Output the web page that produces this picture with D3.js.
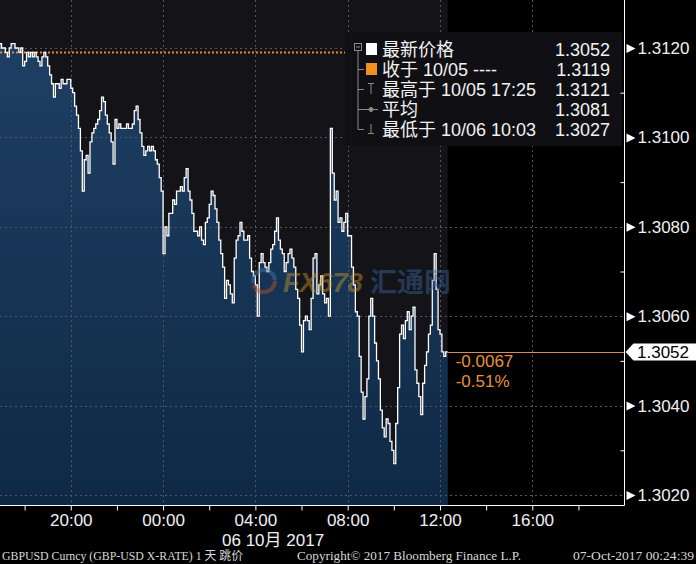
<!DOCTYPE html>
<html><head><meta charset="utf-8">
<script src="https://cdn.jsdelivr.net/npm/d3@7"></script>
<style>body{margin:0;background:#000;overflow:hidden}svg{display:block}</style>
</head><body><svg id="c" width="696" height="564"></svg>
<script>
// ---------- data ----------
const startTime = "2017-10-05T16:50:00";
const stepMinutes = 5;
const prices = [
1.3120,1.3121,1.3120,1.3120,1.3119,1.3118,1.3120,1.3121,1.3121,1.3120,
1.3120,1.3119,1.3120,1.3116,1.3117,1.3119,1.3118,1.3119,1.3118,1.3119,
1.3118,1.3117,1.3116,1.3118,1.3119,1.3118,1.3116,1.3114,1.3112,1.3109,
1.3112,1.3112,1.3111,1.3113,1.3112,1.3112,1.3113,1.3113,1.3111,1.3110,
1.3107,1.3105,1.3102,1.3097,1.3088,1.3095,1.3096,1.3092,1.3099,1.3101,
1.3102,1.3103,1.3104,1.3106,1.3109,1.3108,1.3105,1.3103,1.3101,1.3099,
1.3094,1.3104,1.3102,1.3103,1.3102,1.3102,1.3102,1.3103,1.3102,1.3102,
1.3103,1.3106,1.3107,1.3104,1.3101,1.3098,1.3096,1.3097,1.3098,1.3097,
1.3098,1.3097,1.3095,1.3094,1.3091,1.3088,1.3074,1.3080,1.3078,1.3083,
1.3083,1.3086,1.3085,1.3088,1.3088,1.3089,1.3088,1.3091,1.3093,1.3088,
1.3086,1.3083,1.3079,1.3079,1.3078,1.3080,1.3077,1.3076,1.3081,1.3082,
1.3085,1.3088,1.3087,1.3084,1.3081,1.3077,1.3074,1.3071,1.3064,1.3068,
1.3067,1.3065,1.3063,1.3073,1.3077,1.3078,1.3081,1.3079,1.3077,1.3077,
1.3078,1.3073,1.3070,1.3069,1.3067,1.3060,1.3072,1.3074,1.3072,1.3071,
1.3070,1.3072,1.3075,1.3076,1.3079,1.3082,1.3077,1.3075,1.3074,1.3070,
1.3072,1.3074,1.3075,1.3073,1.3071,1.3066,1.3064,1.3058,1.3052,1.3059,
1.3060,1.3059,1.3057,1.3064,1.3073,1.3074,1.3065,1.3067,1.3069,1.3065,
1.3063,1.3064,1.3060,1.3102,1.3092,1.3086,1.3088,1.3081,1.3082,1.3079,
1.3081,1.3083,1.3078,1.3078,1.3071,1.3067,1.3061,1.3060,1.3051,1.3043,
1.3037,1.3042,1.3046,1.3060,1.3064,1.3060,1.3054,1.3050,1.3046,1.3039,
1.3035,1.3033,1.3037,1.3036,1.3032,1.3030,1.3027,1.3036,1.3044,1.3056,
1.3058,1.3055,1.3059,1.3061,1.3057,1.3060,1.3062,1.3048,1.3045,1.3042,
1.3038,1.3045,1.3049,1.3052,1.3056,1.3058,1.3068,1.3074,1.3066,1.3057,
1.3056,1.3052,1.3051,1.3052,1.3052];
const priorClose = 1.3119;
const lastPrice = 1.3052;
const changeLabels = ["-0.0067", "-0.51%"];
const yTicks = [1.3020, 1.3040, 1.3060, 1.3080, 1.3100, 1.3120];
const yMinorTicks = [1.3030, 1.3050, 1.3070, 1.3090, 1.3110];
const xTickTimes = ["2017-10-05T20:00","2017-10-06T00:00","2017-10-06T04:00","2017-10-06T08:00","2017-10-06T12:00","2017-10-06T16:00"];
const xTickLabels = ["20:00","00:00","04:00","08:00","12:00","16:00"];
const xMinorTimes = ["2017-10-05T18:00","2017-10-05T22:00","2017-10-06T02:00","2017-10-06T06:00","2017-10-06T10:00","2017-10-06T14:00","2017-10-06T18:00"];
const dateLabel = "06 10月 2017";
const legendLabels = ["最新价格", "收于 10/05 ----", "最高于 10/05 17:25", "平均", "最低于 10/06 10:03"];
const legendValues = ["1.3052", "1.3119", "1.3121", "1.3081", "1.3027"];
const legendKinds = ["whiteSq", "orangeSq", "high", "avg", "low"];
const footerLeft = "GBPUSD Curncy (GBP-USD X-RATE) 1 天  跳价";
const footerMid = "Copyright© 2017 Bloomberg Finance L.P.";
const footerRight = "07-Oct-2017 00:24:39";

// ---------- setup ----------
const svg = d3.select("#c");
const W = 696, H = 564, plotR = 624.5, plotB = 505.5;
const t0 = new Date(startTime);
const data = prices.map((p, i) => ({t: new Date(t0.getTime() + i * stepMinutes * 60000), v: p}));
const x = d3.scaleTime().domain([new Date("2017-10-05T16:56:00"), new Date("2017-10-06T20:00:00")]).range([0, 624.6]);
const y = d3.scaleLinear().domain([1.3020, 1.3120]).range([495, 48]);
const font = "Arial, 'Liberation Sans', 'Noto Sans CJK SC', sans-serif";

svg.append("rect").attr("width", W).attr("height", H).attr("fill", "#000");
const defs = svg.append("defs");
defs.append("clipPath").attr("id", "clip").append("rect").attr("x", 0).attr("y", 0).attr("width", plotR).attr("height", plotB);
const grad = defs.append("linearGradient").attr("id", "ag").attr("x1", 0).attr("x2", 0).attr("y1", 0).attr("y2", 1);
grad.append("stop").attr("offset", "0%").attr("stop-color", "#1e3f64");
grad.append("stop").attr("offset", "100%").attr("stop-color", "#0f2945");

const plot = svg.append("g").attr("clip-path", "url(#clip)");
const lastT = data[data.length - 1].t;
plot.append("rect").attr("x", 0).attr("y", 0).attr("width", x(lastT)).attr("height", plotB).attr("fill", "#141418");

const area = d3.area().x(d => x(d.t)).y0(plotB).y1(d => y(d.v)).curve(d3.curveStepAfter);
plot.append("path").datum(data).attr("d", area).attr("fill", "url(#ag)");

// grid
const grid = plot.append("g").attr("stroke", "#545462").attr("stroke-width", 1).attr("stroke-dasharray", "2,3");
yTicks.forEach(v => grid.append("line").attr("x1", 0).attr("x2", plotR).attr("y1", Math.round(y(v)) + 0.5).attr("y2", Math.round(y(v)) + 0.5));
xTickTimes.forEach(s => { const xx = Math.round(x(new Date(s))) + 0.5; grid.append("line").attr("x1", xx).attr("x2", xx).attr("y1", 0).attr("y2", plotB); });

// prior close dotted line
plot.append("line").attr("x1", 0).attr("x2", plotR).attr("y1", y(priorClose)).attr("y2", y(priorClose))
  .attr("stroke", "#e8862a").attr("stroke-width", 2).attr("stroke-dasharray", "2,2");

// price line
const line = d3.line().x(d => x(d.t)).y(d => y(d.v)).curve(d3.curveStepAfter);
plot.append("path").datum(data).attr("d", line).attr("fill", "none").attr("stroke", "#ffffff").attr("stroke-width", 1.3);

// last price line
plot.append("line").attr("x1", x(lastT)).attr("x2", plotR).attr("y1", Math.round(y(lastPrice)) + 0.5).attr("y2", Math.round(y(lastPrice)) + 0.5)
  .attr("stroke", "#d98a5c").attr("stroke-width", 1);

// watermark
const wm = svg.append("g").attr("opacity", 0.45);
wm.append("circle").attr("cx", 264).attr("cy", 281).attr("r", 11).attr("fill", "none").attr("stroke", "#c0552a").attr("stroke-width", 4).attr("stroke-dasharray", "30,40");
wm.append("circle").attr("cx", 264).attr("cy", 281).attr("r", 11).attr("fill", "none").attr("stroke", "#4a74b0").attr("stroke-width", 4).attr("stroke-dasharray", "0,32,36,10");
wm.append("text").attr("x", 283).attr("y", 292).text("FX678").attr("fill", "#c9952e").attr("font-family", font).attr("font-weight", "bold").attr("font-style", "italic").attr("font-size", 27);
wm.append("text").attr("x", 370).attr("y", 292).text("汇通网").attr("fill", "#3a64a0").attr("font-family", "'Noto Sans CJK SC'").attr("font-weight", "bold").attr("font-size", 27);

// change labels
svg.selectAll("text.chg").data(changeLabels).join("text").attr("class", "chg")
  .attr("x", x(lastT) + 8).attr("y", (d, i) => y(lastPrice) + 15 + i * 20)
  .text(d => d).attr("fill", "#e8913a").attr("font-family", font).attr("font-size", 17);

// legend
const lg = svg.append("g");
lg.append("rect").attr("x", 345).attr("y", 32).attr("width", 277).attr("height", 114).attr("fill", "#101014");
const rowY = i => 49 + i * 20;
const tree = lg.append("g").attr("stroke", "#8a8a8a").attr("stroke-width", 1).attr("fill", "none");
tree.append("rect").attr("x", 354.5).attr("y", 43.5).attr("width", 7).attr("height", 7);
tree.append("line").attr("x1", 356).attr("x2", 360).attr("y1", 47).attr("y2", 47);
tree.append("line").attr("x1", 358).attr("x2", 358).attr("y1", 51).attr("y2", rowY(4) + 0.5);
legendKinds.forEach((k, i) => {
  if (i > 0) tree.append("line").attr("x1", 358).attr("x2", 364).attr("y1", rowY(i) + 0.5).attr("y2", rowY(i) + 0.5);
});
legendKinds.forEach((k, i) => {
  const cy = rowY(i);
  if (k === "whiteSq") lg.append("rect").attr("x", 366).attr("y", cy - 6).attr("width", 11).attr("height", 12).attr("fill", "#ffffff");
  if (k === "orangeSq") lg.append("rect").attr("x", 366).attr("y", cy - 6).attr("width", 11).attr("height", 12).attr("fill", "#f0901e");
  if (k === "high") { tree.append("line").attr("x1", 368).attr("x2", 374).attr("y1", cy - 5.5).attr("y2", cy - 5.5); tree.append("line").attr("x1", 371).attr("x2", 371).attr("y1", cy - 5).attr("y2", cy + 5); }
  if (k === "low") { tree.append("line").attr("x1", 368).attr("x2", 374).attr("y1", cy + 4.5).attr("y2", cy + 4.5); tree.append("line").attr("x1", 371).attr("x2", 371).attr("y1", cy - 5).attr("y2", cy + 4); }
  if (k === "avg") { tree.append("line").attr("x1", 364).attr("x2", 378).attr("y1", cy + 0.5).attr("y2", cy + 0.5); tree.append("circle").attr("cx", 371).attr("cy", cy + 0.5).attr("r", 2).attr("fill", "#8a8a8a"); }
});
lg.selectAll("text.ll").data(legendLabels).join("text").attr("class", "ll")
  .attr("x", 382).attr("y", (d, i) => rowY(i) + 7).text(d => d)
  .attr("fill", "#f2f2f2").attr("font-family", font).attr("font-size", 18);
lg.selectAll("text.lv").data(legendValues).join("text").attr("class", "lv")
  .attr("x", 610).attr("y", (d, i) => rowY(i) + 7).attr("text-anchor", "end").text(d => d)
  .attr("fill", "#f2f2f2").attr("font-family", font).attr("font-size", 18);

// right axis
const ra = svg.append("g").attr("transform", `translate(${plotR},0)`)
  .call(d3.axisRight(y).tickValues(yTicks).tickSize(0).tickPadding(13).tickFormat(d3.format(".4f")));
ra.select(".domain").remove();
ra.selectAll("text").attr("fill", "#f0f0f0").attr("font-family", font).attr("font-size", 17);
ra.selectAll(".tick").append("path").attr("d", "M2,-4.5L11,0L2,4.5Z").attr("fill", "#ffffff");
const rm = svg.append("g").attr("transform", `translate(${plotR},0)`)
  .call(d3.axisLeft(y).tickValues(yMinorTicks).tickSize(4).tickFormat(""));
rm.select(".domain").remove();
rm.selectAll("line").attr("stroke", "#ffffff");

// current price tag
const py = y(lastPrice);
svg.append("path").attr("d", `M${plotR + 1},${py} L${plotR + 9},${py - 8.5} L${W},${py - 8.5} L${W},${py + 8.5} L${plotR + 9},${py + 8.5} Z`).attr("fill", "#ffffff");
svg.append("text").attr("x", 689).attr("y", py + 6).attr("text-anchor", "end").text(d3.format(".4f")(lastPrice))
  .attr("fill", "#000").attr("font-family", font).attr("font-size", 17);

// bottom axis
const ba = svg.append("g").attr("transform", `translate(0,${plotB})`)
  .call(d3.axisBottom(x).tickValues(xTickTimes.map(s => new Date(s))).tickSize(5).tickPadding(3).tickFormat((d, i) => xTickLabels[i]));
ba.select(".domain").remove();
ba.selectAll("line").attr("stroke", "#ffffff");
ba.selectAll("text").attr("fill", "#f0f0f0").attr("font-family", font).attr("font-size", 17);
const bm = svg.append("g").attr("transform", `translate(0,${plotB})`)
  .call(d3.axisBottom(x).tickValues(xMinorTimes.map(s => new Date(s))).tickSize(5).tickFormat(""));
bm.select(".domain").remove();
bm.selectAll("line").attr("stroke", "#ffffff");
svg.append("text").attr("x", 222).attr("y", 546).text(dateLabel).attr("fill", "#f0f0f0").attr("font-family", font).attr("font-size", 17);

// frame
svg.append("line").attr("x1", plotR).attr("x2", plotR).attr("y1", 0).attr("y2", plotB).attr("stroke", "#fff");
svg.append("line").attr("x1", 0).attr("x2", plotR).attr("y1", plotB).attr("y2", plotB).attr("stroke", "#fff");

// footer
const ff = "'Liberation Serif', 'Noto Sans CJK SC', serif";
svg.append("text").attr("x", 2).attr("y", 560).text(footerLeft).attr("fill", "#d8d8d8").attr("font-family", ff).attr("font-size", 12).attr("textLength", 241).attr("lengthAdjust", "spacingAndGlyphs");
svg.append("text").attr("x", 297).attr("y", 560).text(footerMid).attr("fill", "#d8d8d8").attr("font-family", ff).attr("font-size", 12).attr("textLength", 224).attr("lengthAdjust", "spacingAndGlyphs");
svg.append("text").attr("x", 694).attr("y", 560).attr("text-anchor", "end").text(footerRight).attr("fill", "#d8d8d8").attr("font-family", ff).attr("font-size", 12).attr("textLength", 121).attr("lengthAdjust", "spacingAndGlyphs");
</script></body></html>
